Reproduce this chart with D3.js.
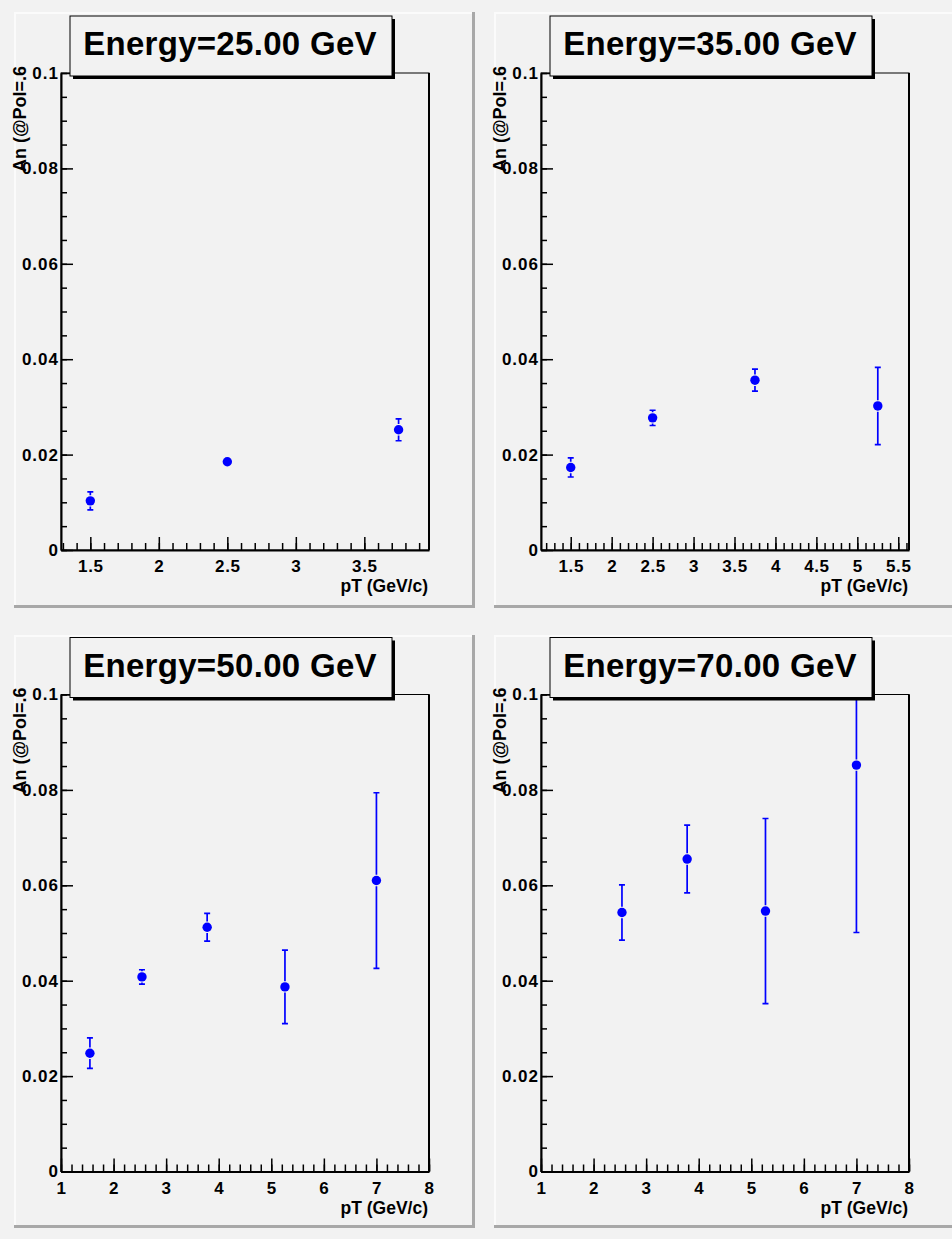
<!DOCTYPE html>
<html>
<head>
<meta charset="utf-8">
<script src="https://cdn.jsdelivr.net/npm/d3@7"></script>
<style>
  body { margin: 0; background: #f2f2f2; }
  svg { display: block; font-family: "Liberation Sans", Arial, Helvetica, sans-serif; font-weight: bold; }
</style>
</head>
<body>
<svg width="952" height="1239"></svg>
<script>
// DATA
const energies = [25, 35, 50, 70];

const pt25 = [1.5, 2.5, 3.75];
const an25 = [0.0103, 0.0185, 0.0252];
const err25 = [0.0019, 0.0007, 0.0023];

const pt35 = [1.5, 2.5, 3.75, 5.25];
const an35 = [0.0173, 0.0277, 0.0356, 0.0302];
const err35 = [0.0020, 0.0016, 0.0023, 0.0081];

const pt50 = [1.55, 2.54, 3.78, 5.26, 7.0];
const an50 = [0.0248, 0.0408, 0.0512, 0.0387, 0.0610];
const err50 = [0.0032, 0.0015, 0.0029, 0.0077, 0.0184];

const pt70 = [2.54, 3.78, 5.27, 7.0];
const an70 = [0.0543, 0.0655, 0.0546, 0.0852];
const err70 = [0.0058, 0.0071, 0.0194, 0.0351];

// axis ranges + ticks
const xRanges = [[1.286, 3.972], [1.137, 5.631], [1, 8], [1, 8]];
const xMajorTicks = [
  [1.5, 2, 2.5, 3, 3.5],
  [1.5, 2, 2.5, 3, 3.5, 4, 4.5, 5, 5.5],
  [1, 2, 3, 4, 5, 6, 7, 8],
  [1, 2, 3, 4, 5, 6, 7, 8]
];
const xTickLabels = [
  ["1.5", "2", "2.5", "3", "3.5"],
  ["1.5", "2", "2.5", "3", "3.5", "4", "4.5", "5", "5.5"],
  ["1", "2", "3", "4", "5", "6", "7", "8"],
  ["1", "2", "3", "4", "5", "6", "7", "8"]
];
const xMinorStep = [0.1, 0.1, 0.2, 0.2];
const yRange = [0, 0.1];
const yMajorTicks = [0, 0.02, 0.04, 0.06, 0.08, 0.1];
const yTickLabels = ["0", "0.02", "0.04", "0.06", "0.08", "0.1"];
const yMinorStep = 0.005;

const xTitle = "pT (GeV/c)";
const yTitle = "An (@Pol=.6";

const series = [
  { pt: pt25, an: an25, err: err25 },
  { pt: pt35, an: an35, err: err35 },
  { pt: pt50, an: an50, err: err50 },
  { pt: pt70, an: an70, err: err70 }
];

// LAYOUT
const svg = d3.select("svg");
const padX = [14, 494];
const padY = [12, 635];
const padW = 461;
const padH = [596, 593];
const frameLeft = 47, frameW = 368;
const frameTop = [73, 694.5], frameH = 477;
const blue = "#0000ff";
const markR = 4.7;
const labelSize = 17;

const defs = svg.append("defs");

energies.forEach((energy, i) => {
  const col = i % 2, row = Math.floor(i / 2);
  const px = padX[col], py = padY[row], ph = padH[row];
  const fx = px + frameLeft, fy = frameTop[row];

  // pad (raised border)
  const pad = svg.append("g");
  pad.append("rect").attr("x", px).attr("y", py).attr("width", padW).attr("height", ph)
    .attr("fill", "#f2f2f2");
  pad.append("path").attr("d", `M${px + 1},${py + ph}V${py + 1}H${px + padW}`)
    .attr("fill", "none").attr("stroke", "#fbfbfb").attr("stroke-width", 2);
  pad.append("path").attr("d", `M${px},${py + ph - 1.5}H${px + padW - 1.5}V${py}`)
    .attr("fill", "none").attr("stroke", "#a8a8a8").attr("stroke-width", 3);

  const g = svg.append("g").attr("transform", `translate(${fx},${fy})`);

  const x = d3.scaleLinear().domain(xRanges[i]).range([0, frameW]);
  const y = d3.scaleLinear().domain(yRange).range([frameH, 0]);

  // frame
  g.append("rect").attr("width", frameW).attr("height", frameH)
    .attr("fill", "#f2f2f2").attr("stroke", "#000").attr("stroke-width", 1);
  g.append("line").attr("x1", frameW).attr("x2", frameW).attr("y1", 0).attr("y2", frameH)
    .attr("stroke", "#000").attr("stroke-width", 2);

  // minor ticks
  const [x0, x1] = xRanges[i];
  const xMinor = d3.range(Math.ceil(x0 / xMinorStep[i] - 1e-6) * xMinorStep[i], x1 + 1e-9, xMinorStep[i]);
  const yMinor = d3.range(0, 0.1 + 1e-9, yMinorStep);

  g.append("g").attr("transform", `translate(0,${frameH})`)
    .call(d3.axisBottom(x).tickValues(xMinor).tickSize(-7).tickSizeOuter(0).tickFormat(""))
    .call(s => s.select(".domain").remove())
    .call(s => s.selectAll("line").attr("stroke-width", 1.5));
  g.append("g")
    .call(d3.axisLeft(y).tickValues(yMinor).tickSize(-6).tickSizeOuter(0).tickFormat(""))
    .call(s => s.select(".domain").remove())
    .call(s => s.selectAll("line").attr("stroke-width", 1.5));

  // major axes
  g.append("g").attr("transform", `translate(0,${frameH})`)
    .call(d3.axisBottom(x).tickValues(xMajorTicks[i]).tickSize(-13).tickSizeOuter(0)
      .tickPadding(10).tickFormat((d, k) => xTickLabels[i][k]))
    .call(s => s.select(".domain").attr("stroke-width", 2))
    .call(s => s.selectAll("line").attr("stroke-width", 1.5))
    .call(s => s.selectAll("text").attr("font-size", labelSize).attr("font-family", null)
      .attr("letter-spacing", "0.6px").attr("fill", "#000"));
  g.append("g")
    .call(d3.axisLeft(y).tickValues(yMajorTicks).tickSize(-12).tickSizeOuter(0)
      .tickPadding(2).tickFormat((d, k) => yTickLabels[k]))
    .call(s => s.select(".domain").attr("stroke-width", 2))
    .call(s => s.selectAll("line").attr("stroke-width", 1.5))
    .call(s => s.selectAll("text").attr("font-size", labelSize).attr("font-family", null)
      .attr("letter-spacing", "1px").attr("fill", "#000"));

  // axis titles
  g.append("text").attr("x", frameW - 1).attr("y", frameH + 42)
    .attr("text-anchor", "end").attr("font-size", 17.5).text(xTitle);
  g.append("text").attr("transform", `translate(${px + 12 - fx},-7) rotate(-90)`)
    .attr("text-anchor", "end").attr("font-size", 18).text(yTitle);

  // data points with error bars, clipped to frame
  defs.append("clipPath").attr("id", `clip${i}`)
    .append("rect").attr("width", frameW).attr("height", frameH);
  const s = series[i];
  const pts = s.pt.map((p, k) => ({ p, v: s.an[k], e: s.err[k] }));
  const dg = g.append("g").attr("clip-path", `url(#clip${i})`);
  const pg = dg.selectAll("g.pt").data(pts).join("g").attr("class", "pt")
    .attr("transform", d => `translate(${x(d.p)},${y(d.v)})`);
  pg.each(function (d) {
    const el = d3.select(this);
    const ePx = y(0) - y(d.e);
    if (ePx > markR + 1) {
      el.append("path")
        .attr("d", `M0,${-markR - 1}V${-ePx}M0,${markR + 1}V${ePx}M-3,${-ePx}H3M-3,${ePx}H3`)
        .attr("stroke", blue).attr("stroke-width", 1.7).attr("fill", "none");
    }
  });
  pg.append("circle").attr("r", markR).attr("fill", blue);

  // title box
  const bx = px + 56, by = fy - 57, bw = 322, bh = 60;
  svg.append("rect").attr("x", bx + 3).attr("y", by + 3).attr("width", bw).attr("height", bh).attr("fill", "#000");
  svg.append("rect").attr("x", bx).attr("y", by).attr("width", bw).attr("height", bh)
    .attr("fill", "#f2f2f2").attr("stroke", "#000").attr("stroke-width", 1);
  svg.append("text").attr("x", bx + bw / 2 - 1).attr("y", by + 39)
    .attr("text-anchor", "middle").attr("font-size", 33).attr("letter-spacing", "0.3px")
    .text(`Energy=${energy.toFixed(2)} GeV`);
});
</script>
</body>
</html>
